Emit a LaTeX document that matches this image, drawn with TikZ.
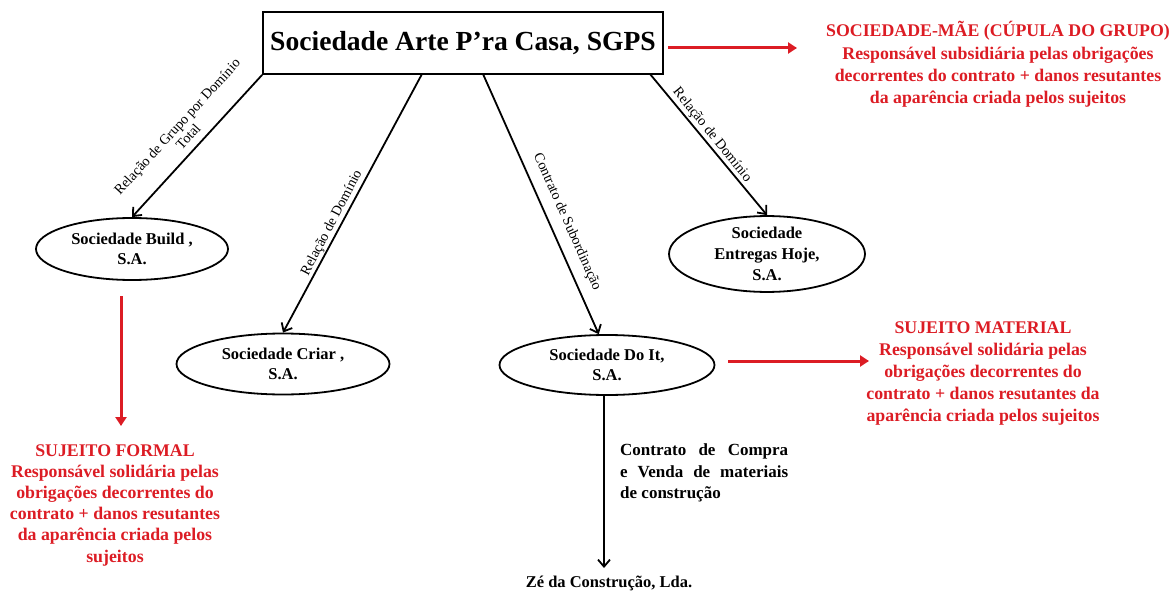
\documentclass[tikz,border=0pt]{standalone}
\usepackage{fontspec}
\setmainfont{Liberation Serif}
\usetikzlibrary{arrows.meta,shapes.geometric}
\definecolor{myred}{RGB}{220,28,36}
\begin{document}
\begin{tikzpicture}[x=1pt,y=-1pt,
  company/.style={ellipse, draw, line width=1.8pt, inner sep=0pt, align=center,
     font=\fontsize{16.5}{20}\selectfont\bfseries},
  blkarrow/.style={line width=1.8pt, -{Straight Barb[length=7pt,width=12pt,line width=1.8pt]}},
  redarrow/.style={draw=myred, line width=3pt, -{Triangle[length=9pt,width=11pt]}, myred},
  redtext/.style={text=myred, align=center, inner sep=0pt,
     font=\fontsize{17.8}{22.2}\selectfont\bfseries},
  rellabel/.style={inner sep=0pt, align=center, font=\fontsize{14.2}{15}\selectfont}
]
\useasboundingbox (0,0) rectangle (1175,596);

% main box
\node[draw, line width=1.8pt, minimum width=400pt, minimum height=62pt, inner sep=0pt,
  font=\fontsize{27.6}{30}\selectfont\bfseries] (top) at (463,43) {Sociedade Arte P’ra Casa, SGPS};

% companies
\node[company, minimum width=192pt, minimum height=62pt] (build) at (132,249) {Sociedade Build ,\\S.A.};
\node[company, minimum width=213pt, minimum height=61pt] (criar) at (283,364) {Sociedade Criar ,\\S.A.};
\node[company, minimum width=215pt, minimum height=60pt] (doit) at (607,365) {Sociedade Do It,\\S.A.};
\node[company, minimum width=196pt, minimum height=67pt, font=\fontsize{16.5}{21}\selectfont\bfseries] (entregas) at (767,254) {Sociedade\\Entregas Hoje,\\S.A.};

% start points on the main box
\coordinate (s1) at (top.south west);
\coordinate (s2) at (422,74);
\coordinate (s3) at (483,74);
\coordinate (s4) at (650,74);

\draw[blkarrow] (s1) -- (build.north);
\draw[blkarrow] (s2) -- (criar.north);
\draw[blkarrow] (s3) -- (doit.105);
\draw[blkarrow] (s4) -- (entregas.north);

% labels on arrows
\node[rellabel, rotate=47.5] (l1) at (182.5,131.5) {Relação de Grupo por Domínio\\Total};
\node[rellabel, rotate=62.5] (l2) at (332,223) {Relação de Domínio};
\node[rellabel, rotate=-66] (l3) at (567,222) {Contrato de Subordinação};
\node[rellabel, rotate=-51] (l4) at (712,135) {Relação de Domínio};

% red texts
\node[redtext] (mae) at (998,64.5) {SOCIEDADE-MÃE (CÚPULA DO GRUPO)\\ Responsável subsidiária pelas obrigações\\decorrentes do contrato + danos resutantes\\da aparência criada pelos sujeitos};
\node[redtext] (material) at (983,373.5) {SUJEITO MATERIAL\\Responsável solidária pelas\\obrigações decorrentes do\\contrato + danos resutantes da\\aparência criada pelos sujeitos};
\node[redtext, font=\fontsize{17.8}{21.2}\selectfont\bfseries] (formal) at (115,505) {SUJEITO FORMAL\\Responsável solidária pelas\\obrigações decorrentes do\\contrato + danos resutantes\\da aparência criada pelos\\sujeitos};

% red arrows
\coordinate (r1a) at (668,48);
\coordinate (r1b) at (797,48);
\draw[redarrow] (r1a) -- (r1b);
\coordinate (r2a) at (728,361);
\coordinate (r2b) at (869,361);
\draw[redarrow] (r2a) -- (r2b);
\coordinate (r3a) at (121,296);
\coordinate (r3b) at (121,426);
\draw[redarrow] (r3a) -- (r3b);

% bottom
\node[inner sep=0pt, font=\fontsize{16.5}{20}\selectfont\bfseries] (ze) at (609,583) {Zé da Construção, Lda.};
\coordinate (d1) at (604,396);
\coordinate (d2) at (604,568);
\draw[blkarrow] (d1) -- (d2);

\node[anchor=west, inner sep=0pt, align=left,
  font=\fontsize{17}{21.5}\selectfont\bfseries] (compra) at (620,473)
  {\makebox[168pt][s]{Contrato de Compra}\\\makebox[168pt][s]{e Venda de materiais}\\de construção};
\end{tikzpicture}
\end{document}
